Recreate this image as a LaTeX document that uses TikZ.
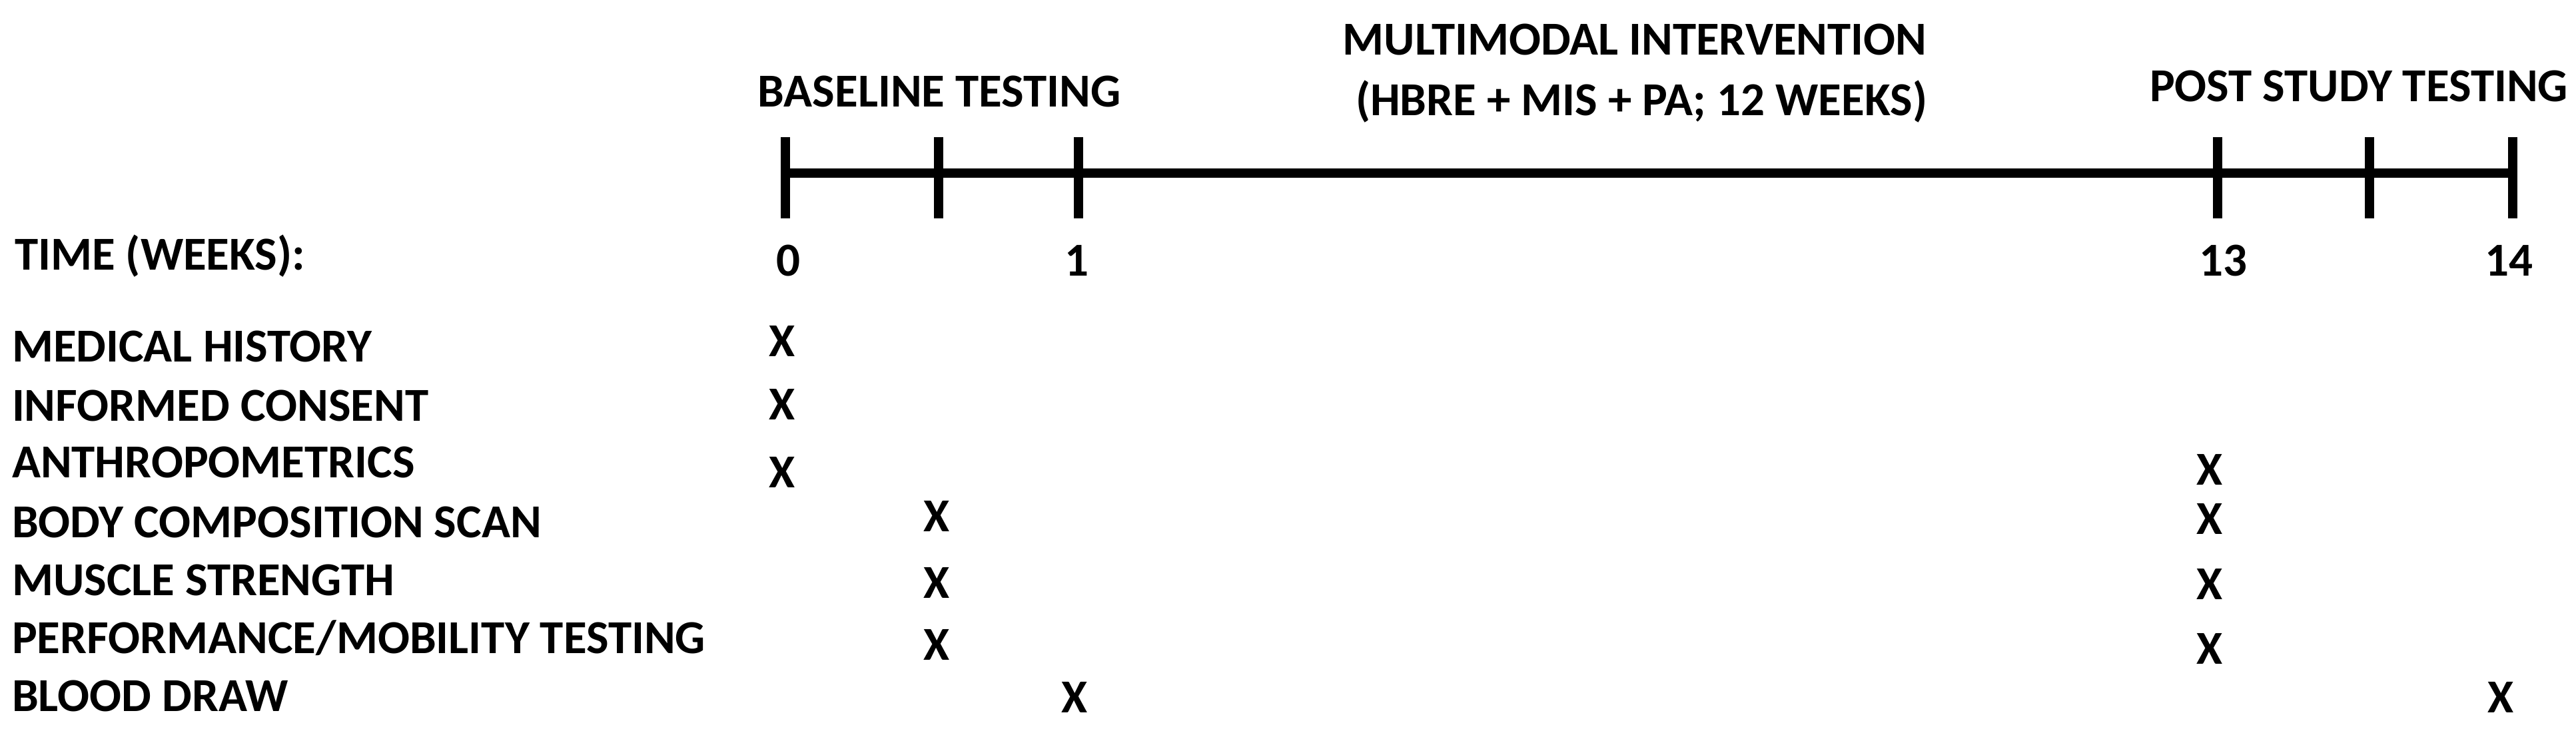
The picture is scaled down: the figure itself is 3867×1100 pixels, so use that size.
\documentclass[tikz,border=0pt]{standalone}
\usepackage{fontspec}
\setmainfont{Carlito}
\begin{document}
\begin{tikzpicture}[x=1pt,y=-1pt,
  txt/.style={inner sep=0pt, outer sep=0pt, font=\bfseries\fontsize{71}{85}\selectfont, text=black},
  lbl/.style={txt, anchor=base west},
  ctr/.style={txt, anchor=base},
  xmk/.style={txt, anchor=base},
  axisline/.style={line width=14pt, line cap=butt},
  tickline/.style={line width=14pt, line cap=butt}]
\fill[white] (0,0) rectangle (3867,1100);
\useasboundingbox (0,0) rectangle (3867,1100);

% timeline
\coordinate (a0) at (1179,260);
\coordinate (a5) at (3772,260);
\draw[axisline] (a0) -- (a5);
\foreach \x/\n in {1179/t0,1409/t1,1619/t2,3329/t3,3557/t4,3772/t5}{
  \coordinate (\n top) at (\x,206);
  \coordinate (\n bot) at (\x,328);
  \draw[tickline] (\n top) -- (\n bot);
}

% headers
\node[ctr] (multi1) at (2454,82) {MULTIMODAL INTERVENTION};
\node[ctr] (multi2) at (2464,173) {(HBRE + MIS + PA; 12 WEEKS)};
\node[ctr] (base) at (1410,160) {BASELINE TESTING};
\node[ctr] (post) at (3541,152) {POST STUDY TESTING};

% time row
\node[lbl] (time) at (22,405) {TIME (WEEKS):};
\node[ctr] (w0) at (1183,414) {0};
\node[ctr] (w1) at (1616,414) {1};
\node[ctr] (w13) at (3337,414) {13};
\node[ctr] (w14) at (3766,414) {14};

% row labels
\node[lbl] (r1) at (18,543) {MEDICAL HISTORY};
\node[lbl] (r2) at (18,632) {INFORMED CONSENT};
\node[lbl] (r3) at (18,717) {ANTHROPOMETRICS};
\node[lbl] (r4) at (18,807) {BODY COMPOSITION SCAN};
\node[lbl] (r5) at (18,894) {MUSCLE STRENGTH};
\node[lbl] (r6) at (18,981) {PERFORMANCE/MOBILITY TESTING};
\node[lbl] (r7) at (18,1068) {BLOOD DRAW};

% marks
\node[xmk] (x11) at (1174,535) {X};
\node[xmk] (x21) at (1174,630) {X};
\node[xmk] (x31) at (1174,732) {X};
\node[xmk] (x42) at (1406,798) {X};
\node[xmk] (x52) at (1406,898) {X};
\node[xmk] (x62) at (1406,991) {X};
\node[xmk] (x73) at (1613,1070) {X};
\node[xmk] (x34) at (3317,728) {X};
\node[xmk] (x44) at (3317,802) {X};
\node[xmk] (x54) at (3317,900) {X};
\node[xmk] (x64) at (3317,997) {X};
\node[xmk] (x75) at (3754,1070) {X};
\end{tikzpicture}
\end{document}
